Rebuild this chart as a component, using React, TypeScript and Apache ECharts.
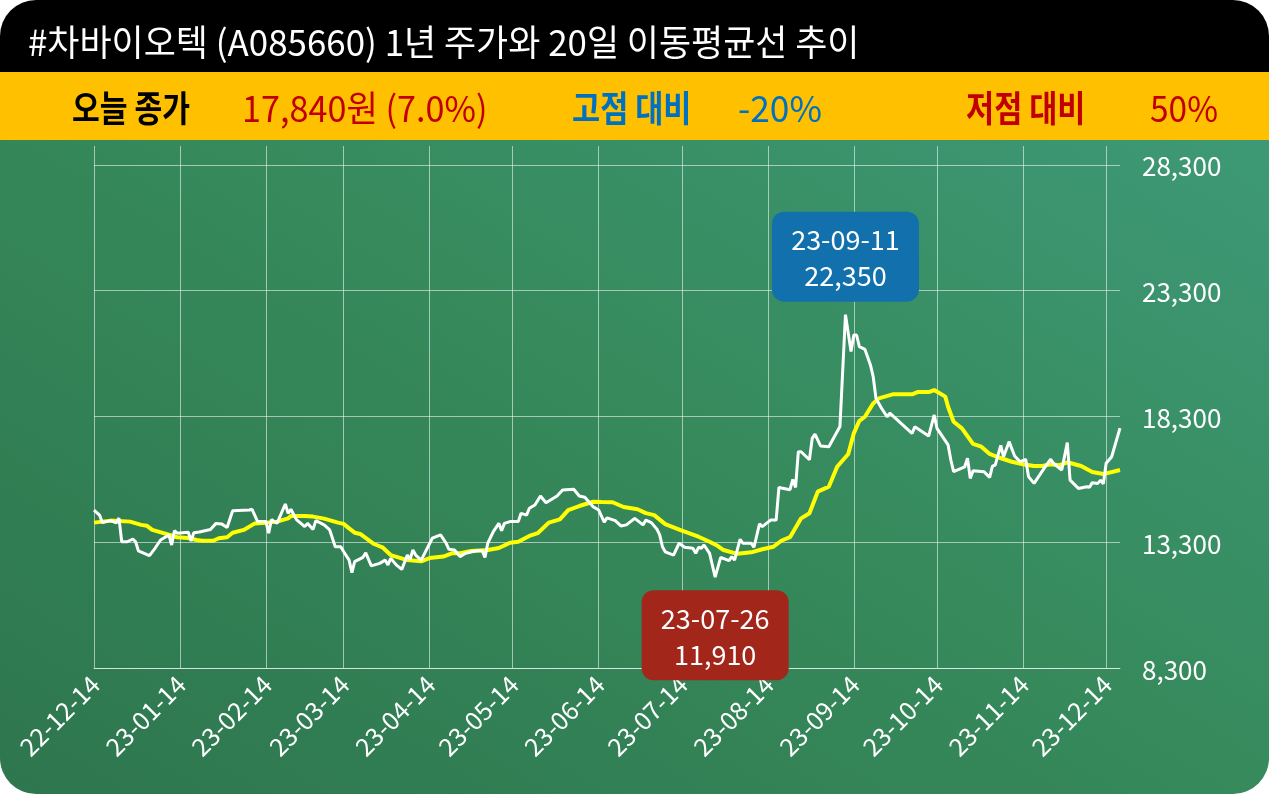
import React, { useEffect, useRef } from "react";
import * as echarts from "echarts";

// ---------- data ----------
const START_DATE = "2022-12-14";
const END_DATE = "2023-12-19";
const TITLE = "#차바이오텍 (A085660) 1년 주가와 20일 이동평균선 추이";
const statTexts = ["오늘 종가", "17,840원 (7.0%)", "고점 대비", "-20%", "저점 대비", "50%"];

// day offsets from START_DATE and closing prices
const priceDays = [
  0, 2, 3, 6, 8, 9, 10, 12, 14, 15, 16, 20, 22, 24, 27, 28, 29, 30, 34, 35, 36, 38, 42, 44, 46, 48, 50,
  56, 57, 59, 62, 63, 64, 66, 69, 70, 71, 73, 76, 77, 79, 80, 83, 85, 87, 89, 90, 92, 93, 94, 97, 98,
  100, 103, 105, 106, 107, 109, 111, 113, 114, 115, 116, 118, 122, 125, 127, 128, 130, 132, 134, 138,
  140, 141, 142, 144, 146, 147, 148, 150, 153, 154, 156, 157, 159, 161, 163, 167, 169, 173, 175, 177,
  180, 182, 184, 185, 188, 190, 192, 195, 198, 199, 201, 203, 204, 205, 206, 209, 211, 213, 216, 217,
  218, 219, 220, 222, 224, 226, 229, 230, 231, 233, 234, 237, 238, 240, 241, 244, 246, 247, 251, 252,
  253, 254, 255, 258, 259, 260, 262, 265, 269, 271, 273, 274, 275, 276, 278, 280, 281, 282, 284, 286,
  287, 295, 296, 301, 303, 304, 308, 309, 310, 314, 315, 316, 317, 321, 323, 324, 325, 327, 328, 330,
  332, 334, 336, 337, 339, 341, 343, 345, 346, 349, 351, 352, 355, 358, 359, 360, 362, 363, 364, 365,
  367, 370,
];
const priceValues = [
  14580, 14380, 14080, 14160, 14070, 14260, 13320, 13320, 13430, 13320, 12960, 12770, 13060, 13390,
  13590, 13190, 13760, 13660, 13700, 13350, 13680, 13710, 13810, 14050, 14030, 13890, 14550,
  14580, 14610, 14120, 14120, 13660, 14200, 14050, 14820, 14450, 14610, 14200, 13920, 14050, 13810,
  14160, 13990, 13790, 13120, 13120, 12930, 12590, 12090, 12530, 12700, 12880,
  12360, 12460, 12590, 12400, 12660, 12400, 12220, 12790, 12620, 12990, 12790, 12590, 13460, 13590,
  13260, 13020, 12990, 12730, 12860, 12960,
  12960, 12700, 13260, 13720, 14050, 13760, 14050, 14120, 14120, 14450, 14380, 14650, 14780, 15140,
  14870, 15140, 15380, 15410, 15140, 15090,
  14710, 14580, 14100, 14270, 14160, 13950, 13990, 14250, 13990, 14180, 14080, 13820, 13590, 13120,
  12920, 12790, 13260, 13100, 13060, 12860,
  13100, 13060, 13190, 12860, 11910, 12700, 12570, 12730, 12590, 13420, 13260, 13260, 13100, 14030,
  13920, 14180, 14180, 15480, 15390, 15800,
  15480, 16900, 16900, 16580, 17430, 17600, 17130, 17100, 17900, 22350, 20880, 21540, 21540, 21080,
  20970, 20350, 19880, 19020, 18630, 18290,
  18430, 17630, 17890, 17520, 18360, 17830, 17170, 16570, 16110, 16300, 16640, 15840, 16140, 16100,
  15880, 16330, 16370, 17150, 16700, 17300,
  16730, 16500, 16600, 15910, 15640, 15970, 16300, 16600, 16440, 16170, 17260, 15770, 15440, 15510,
  15490, 15670, 15640, 15770, 15620, 16440,
  16700, 17840,
];

// 20-day moving average
const maDays = [
  0, 6, 13, 17, 19, 21, 26, 30, 34, 37, 39, 43, 45, 48, 50, 54, 58, 62, 66, 70, 71, 76, 79, 83, 88,
  90, 92, 94, 96, 101, 104, 107, 113, 118, 121, 126, 129, 132, 136, 142, 146, 150, 153, 157, 160,
  164, 168, 171, 175, 180, 183, 187, 191, 196, 199, 202, 206, 209, 212, 218, 222, 225, 227, 232,
  237, 241, 245, 248, 251, 255, 258, 261, 265, 268, 272, 274, 276, 278, 281, 283, 288, 295, 297,
  301, 303, 307, 308, 310, 313, 317, 320, 323, 326, 331, 335, 339, 342, 345, 348, 351, 356, 360,
  364, 370,
];
const maValues = [
  14080, 14160, 14120, 13990, 13960, 13790, 13630, 13500, 13470, 13390, 13360, 13360, 13460, 13500,
  13680, 13790, 14050, 14080, 14120, 14250, 14340, 14340, 14320, 14240, 14080,
  14030, 13850, 13680, 13630, 13230, 13100, 12790, 12590, 12540, 12670, 12730, 12860, 12860, 12950,
  12990, 13070, 13280, 13320, 13550, 13660,
  14080, 14210, 14580, 14740, 14910, 14900, 14890, 14700, 14610, 14460, 14380, 14020, 13890, 13760,
  13520, 13320, 13150, 12990, 12840,
  12900, 13020, 13120, 13370, 13500, 14250, 14450, 15310, 15510, 16300, 16810, 17630, 18130, 18290,
  18820, 19020, 19180, 19180, 19270,
  19270, 19350, 19090, 18690, 18090, 17830, 17210, 17100, 16810, 16680, 16500, 16400, 16330, 16330,
  16400, 16360, 16480, 16330, 16090,
  16010, 16170,
];

const highDay = 271;
const highValue = 22350;
const lowDay = 224;
const lowValue = 11910;

const Y_MIN = 8300;
const Y_MAX = 29055;
const Y_STEP = 5000;

// ---------- helpers ----------
function buildCategories(start: string, end: string): string[] {
  const out: string[] = [];
  const d = new Date(start + "T00:00:00Z");
  const e = new Date(end + "T00:00:00Z");
  while (d.getTime() <= e.getTime()) {
    const yy = String(d.getUTCFullYear()).slice(2);
    const mm = String(d.getUTCMonth() + 1).padStart(2, "0");
    const dd = String(d.getUTCDate()).padStart(2, "0");
    out.push(`${yy}-${mm}-${dd}`);
    d.setUTCDate(d.getUTCDate() + 1);
  }
  return out;
}

const fmt = (v: number) => v.toLocaleString("en-US");
const FONT = '"Noto Sans CJK KR", "Noto Sans", sans-serif';
const GRID = "rgba(255,255,255,0.55)";
const BOX_PATH =
  "path://M12,0 L135,0 A12,12 0 0 1 147,12 L147,78 A12,12 0 0 1 135,90 L12,90 A12,12 0 0 1 0,78 L0,12 A12,12 0 0 1 12,0 Z";

export default function App() {
  const ref = useRef<HTMLDivElement>(null);

  useEffect(() => {
    if (!ref.current) return;
    const chart = echarts.init(ref.current, null, { renderer: "svg" });
    const categories = buildCategories(START_DATE, END_DATE);
    const isTick = (_i: number, v: string) => String(v).endsWith("-14");

    const statX = [72, 242, 572, 738, 966, 1150];
    const statScale = [0.84, 0.95, 0.85, 0.98, 0.85, 0.93];
    const statColor = ["#000000", "#C00000", "#0070C0", "#0070C0", "#C00000", "#C00000"];
    const statWeight = ["bold", "normal", "bold", "normal", "bold", "normal"];

    // annotation boxes: a rounded box symbol plus two text lines
    const annotations = [
      { day: highDay, value: highValue, color: "#1271ad", dir: -1 },
      { day: lowDay, value: lowValue, color: "#a2261a", dir: 1 },
    ];
    const markData: any[] = [];
    annotations.forEach((a) => {
      const boxOffset = a.dir * 58;
      markData.push({
        coord: [a.day, a.value],
        symbol: BOX_PATH,
        symbolSize: [147, 90],
        symbolKeepAspect: false,
        symbolOffset: [0, boxOffset],
        itemStyle: { color: a.color },
        label: { show: false },
      });
      markData.push({
        coord: [a.day, a.value],
        label: { formatter: categories[a.day], offset: [0, boxOffset - 18] },
      });
      markData.push({
        coord: [a.day, a.value],
        label: { formatter: fmt(a.value), offset: [0, boxOffset + 18] },
      });
    });

    const option: any = {
      animation: false,
      backgroundColor: "transparent",
      grid: { left: 94, right: 149, top: 146, bottom: 126, containLabel: false },
      xAxis: {
        type: "category",
        data: categories,
        boundaryGap: false,
        axisTick: { show: false },
        axisLine: { show: true, lineStyle: { color: GRID, width: 1 } },
        axisLabel: {
          interval: isTick,
          rotate: 45,
          color: "#ffffff",
          fontSize: 25,
          fontFamily: FONT,
          margin: 11,
        },
        splitLine: { show: true, interval: isTick, lineStyle: { color: GRID, width: 1 } },
      },
      yAxis: {
        type: "value",
        position: "right",
        min: Y_MIN,
        max: Y_MAX,
        interval: Y_STEP,
        axisLine: { show: false },
        axisTick: { show: false },
        axisLabel: {
          color: "#ffffff",
          fontSize: 26,
          fontFamily: FONT,
          margin: 22,
          showMaxLabel: false,
          formatter: (v: number) => fmt(v),
        },
        splitLine: {
          show: true,
          lineStyle: { color: [GRID, GRID, GRID, GRID, GRID, "rgba(0,0,0,0)"], width: 1 },
        },
      },
      series: [
        {
          type: "line",
          name: "MA20",
          data: maDays.map((d, i) => [d, maValues[i]]),
          symbol: "none",
          lineStyle: { color: "#ffff00", width: 4 },
          z: 2,
        },
        {
          type: "line",
          name: "종가",
          data: priceDays.map((d, i) => [d, priceValues[i]]),
          symbol: "none",
          lineStyle: { color: "#ffffff", width: 3 },
          z: 3,
          markPoint: {
            symbol: "circle",
            symbolSize: 1,
            silent: true,
            itemStyle: { color: "rgba(0,0,0,0)" },
            label: {
              show: true,
              position: "inside",
              color: "#ffffff",
              fontSize: 27,
              lineHeight: 28,
              fontFamily: FONT,
              align: "center",
              verticalAlign: "middle",
            },
            data: markData,
          },
        },
      ],
      graphic: [
        {
          type: "text",
          x: 28,
          y: 40,
          scaleX: 0.97,
          style: {
            text: TITLE,
            fill: "#ffffff",
            fontSize: 36,
            fontFamily: FONT,
            verticalAlign: "middle",
          },
        },
        ...statTexts.map((t, i) => ({
          type: "text",
          x: statX[i],
          y: 106,
          scaleX: statScale[i],
          style: {
            text: t,
            fill: statColor[i],
            fontSize: 36,
            fontWeight: statWeight[i],
            fontFamily: FONT,
            verticalAlign: "middle",
          },
        })),
      ],
    };
    chart.setOption(option);
    return () => chart.dispose();
  }, []);

  return (
    <div
      style={{
        position: "fixed",
        left: 0,
        top: 0,
        width: 1269,
        height: 794,
        borderRadius: 36,
        overflow: "hidden",
        background:
          "linear-gradient(#000000 0px, #000000 72px, #FFC000 72px, #FFC000 140px, transparent 140px), linear-gradient(to top right, #2e764e 0%, #368a5c 50%, #3f9c7b 100%)",
      }}
    >
      <div ref={ref} style={{ width: 1269, height: 794 }} />
    </div>
  );
}
